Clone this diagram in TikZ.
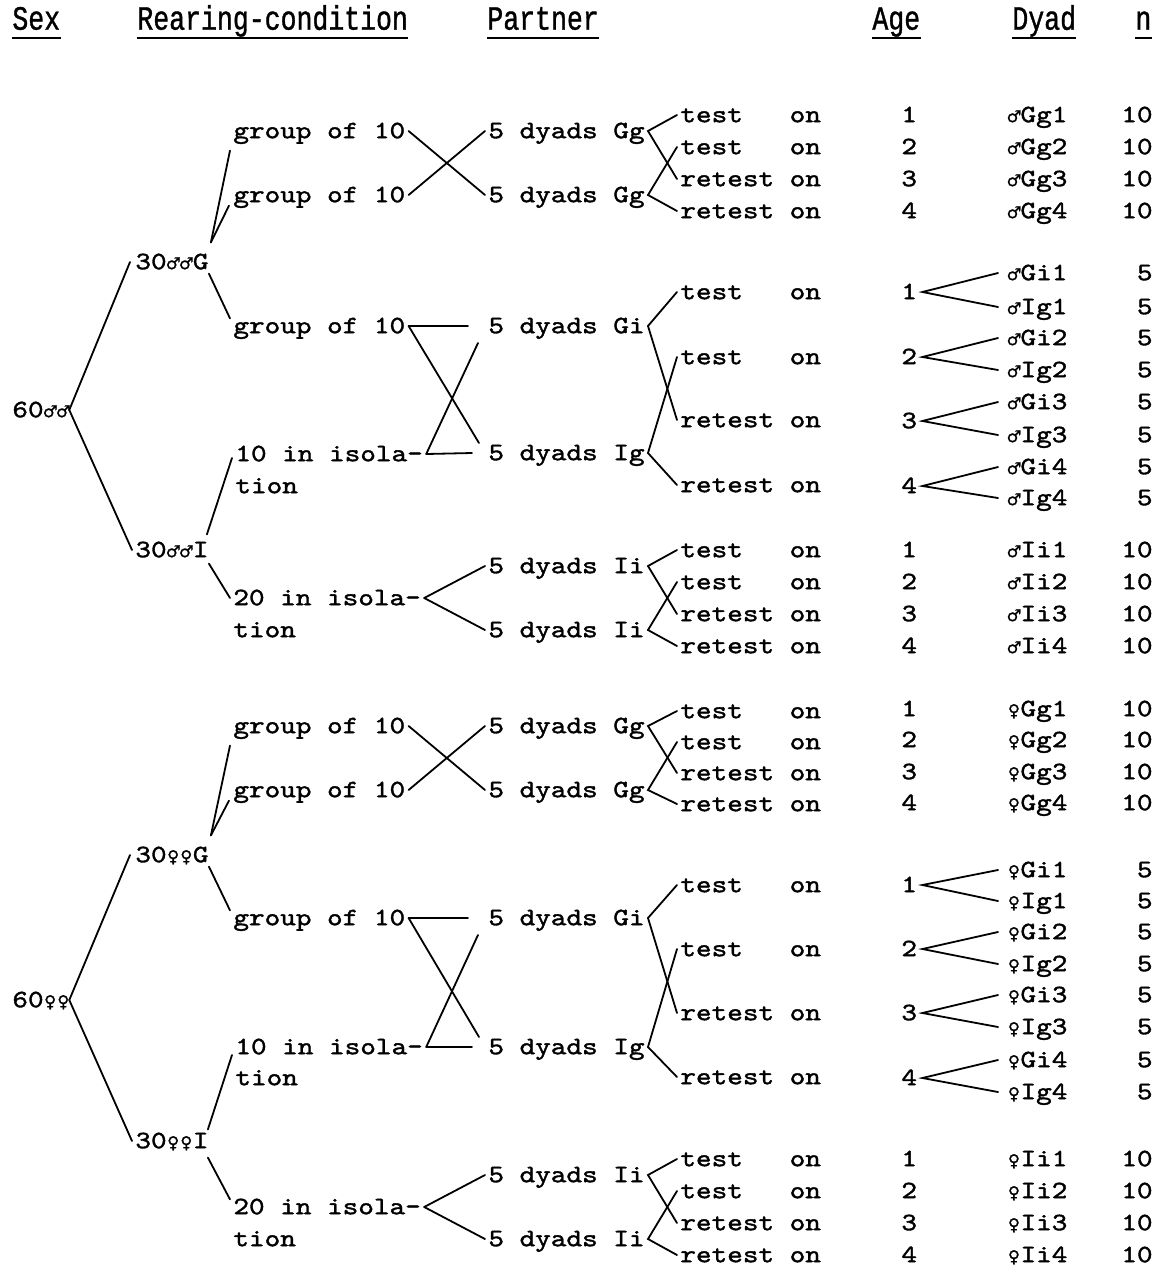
\documentclass[tikz,border=0pt]{standalone}
\usepackage{fontspec}
\newfontfamily\tw{lmmono10-regular.otf}[FakeStretch=1.19,FakeBold=1.5]
\newfontfamily\twc{Liberation Mono}[FakeStretch=0.78,FakeBold=1]
\newfontfamily\symf{DejaVu Sans}[Scale=0.66,FakeBold=1]
\newcommand\malesym{\makebox[0.525em]{\symf\char"2642}}
\newcommand\femsym{\makebox[0.525em]{\symf\char"2640}}
\newcommand\tst{test\ \ \ on}
\newcommand\rtst{retest on}
\tikzset{
  txt/.style={anchor=west, inner xsep=1.5pt, inner ysep=0pt, text height=7.2pt, text depth=0pt, font=\tw\fontsize{12.5}{15}\selectfont},
  nr/.style={txt, anchor=east},
  hdr/.style={txt, text height=9.7pt, font=\twc\fontsize{17}{19}\selectfont},
  ln/.style={line width=0.9pt, line cap=round},
}
\begin{document}
\begin{tikzpicture}[x=0.5pt,y=-0.5pt]
\useasboundingbox (0,0) rectangle (1162,1265);
% headers
\node[hdr] (hs) at (9,20) {Sex};
\node[hdr] (hr) at (134,20) {Rearing-condition};
\node[hdr] (hp) at (484,20) {Partner};
\node[hdr] (ha) at (869,20) {Age};
\node[hdr] (hd) at (1009,20) {Dyad};
\node[hdr] (hn) at (1132,20) {n};
\foreach \h in {hs,hr,hp,ha,hd,hn}
  \draw[line width=0.9pt] ([shift={(3,8)}]\h.south west) -- ([shift={(-3,8)}]\h.south east);

% ================= MALES =================
\node[txt] (sexM) at (9,410) {60\malesym\malesym};
\node[txt] (rgM) at (132,262) {30\malesym\malesym G};
\node[txt] (g1M) at (230,131) {group of 10};
\node[txt] (g2M) at (230,195) {group of 10};
\node[txt] (g3M) at (230,326) {group of 10};
\node[txt] (i1M) at (232,454) {10 in isola-};
\node[txt] (i1tM) at (232,486) {tion};
\node[txt] (riM) at (132,550) {30\malesym\malesym I};
\node[txt] (i2M) at (230,598) {20 in isola-};
\node[txt] (i2tM) at (230,630) {tion};
\node[txt] (d1M) at (485,131) {5 dyads Gg};
\node[txt] (d2M) at (485,195) {5 dyads Gg};
\node[txt] (d3M) at (485,326) {5 dyads Gi};
\node[txt] (d4M) at (485,453) {5 dyads Ig};
\node[txt] (d5M) at (485,566) {5 dyads Ii};
\node[txt] (d6M) at (485,630) {5 dyads Ii};
\foreach \n/\y/\t in {1/115/\tst,2/147/\tst,3/179/\rtst,4/211/\rtst,
                      5/292/\tst,6/357/\tst,7/420/\rtst,8/485/\rtst,
                      9/550/\tst,10/582/\tst,11/614/\rtst,12/646/\rtst}
  \node[txt] (tM\n) at (677,\y) {\t};
% ages, dyads, n
\foreach \n/\y in {1/115,2/147,3/179,4/211}{
  \node[txt] (agM\n) at (898,\y) {\n};
  \node[txt] (dgM\n) at (1004,\y) {\malesym Gg\n};
  \node[nr] (ngM\n) at (1156,\y) {10};
}
\foreach \n/\y in {1/292,2/357,3/421,4/486}
  \node[txt] (aiM\n) at (898,\y) {\n};
\foreach \n/\y/\l in {1/273/Gi1,2/307/Ig1,3/338/Gi2,4/370/Ig2,5/402/Gi3,6/435/Ig3,7/467/Gi4,8/498/Ig4}{
  \node[txt] (sM\n) at (1004,\y) {\malesym\l};
  \node[nr] (nsM\n) at (1156,\y) {5};
}
\foreach \n/\y in {1/550,2/582,3/614,4/646}{
  \node[txt] (aIM\n) at (898,\y) {\n};
  \node[txt] (dIM\n) at (1004,\y) {\malesym Ii\n};
  \node[nr] (nIM\n) at (1156,\y) {10};
}
% connectors
\draw[ln] ([shift={(-4,0)}]sexM.east) -- ([shift={(-2,0)}]rgM.west);
\draw[ln] ([shift={(-4,0)}]sexM.east) -- (riM.west);
\draw[ln] ([shift={(-1,-12)}]rgM.north east) -- ([shift={(0,12)}]g1M.south west);
\draw[ln] ([shift={(-1,-12)}]rgM.north east) -- ([shift={(-1,3)}]g2M.south west);
\draw[ln] ([shift={(-3,4)}]rgM.south east) -- (g3M.north west);
\draw[ln] ([shift={(-5,-8)}]riM.north east) -- ([shift={(0,4)}]i1M.west);
\draw[ln] ([shift={(-3,6)}]riM.south east) -- (i2M.west);
\draw[ln] (g1M.east) -- (d2M.west);
\draw[ln] (g2M.east) -- (d1M.west);
\draw[ln] (g3M.east) -- ([shift={(-17,0)}]d3M.west);
\draw[ln] (g3M.east) -- ([shift={(-6,-10)}]d4M.west);
\draw[ln] (i1M.east) -- ([shift={(-13,0)}]d4M.west);
\draw[ln] (i1M.east) -- ([shift={(-7,17)}]d3M.west);
\draw[ln] (i2M.east) -- (d5M.west);
\draw[ln] (i2M.east) -- (d6M.west);
\draw[ln] (tM1.west) -- (d1M.east) -- (tM3.west);
\draw[ln] (tM2.west) -- (d2M.east) -- (tM4.west);
\draw[ln] (tM5.west) -- (d3M.east) -- (tM7.west);
\draw[ln] (tM6.west) -- (d4M.east) -- (tM8.west);
\draw[ln] (tM9.west) -- (d5M.east) -- (tM11.west);
\draw[ln] (tM10.west) -- (d6M.east) -- (tM12.west);
\draw[ln] ([shift={(-6,0)}]sM1.west) -- ([shift={(2,0)}]aiM1.east) -- ([shift={(-6,0)}]sM2.west);
\draw[ln] ([shift={(-6,0)}]sM3.west) -- ([shift={(2,0)}]aiM2.east) -- ([shift={(-6,0)}]sM4.west);
\draw[ln] ([shift={(-6,0)}]sM5.west) -- ([shift={(2,0)}]aiM3.east) -- ([shift={(-6,0)}]sM6.west);
\draw[ln] ([shift={(-6,0)}]sM7.west) -- ([shift={(2,0)}]aiM4.east) -- ([shift={(-6,0)}]sM8.west);

% ================= FEMALES =================
\node[txt] (sexF) at (9,1000) {60\femsym\femsym};
\node[txt] (rgF) at (132,855) {30\femsym\femsym G};
\node[txt] (g1F) at (230,726) {group of 10};
\node[txt] (g2F) at (230,790) {group of 10};
\node[txt] (g3F) at (230,918) {group of 10};
\node[txt] (i1F) at (232,1047) {10 in isola-};
\node[txt] (i1tF) at (232,1078) {tion};
\node[txt] (riF) at (132,1141) {30\femsym\femsym I};
\node[txt] (i2F) at (230,1207) {20 in isola-};
\node[txt] (i2tF) at (230,1239) {tion};
\node[txt] (d1F) at (485,726) {5 dyads Gg};
\node[txt] (d2F) at (485,790) {5 dyads Gg};
\node[txt] (d3F) at (485,918) {5 dyads Gi};
\node[txt] (d4F) at (485,1047) {5 dyads Ig};
\node[txt] (d5F) at (485,1175) {5 dyads Ii};
\node[txt] (d6F) at (485,1239) {5 dyads Ii};
\foreach \n/\y/\t in {1/711/\tst,2/742/\tst,3/773/\rtst,4/804/\rtst,
                      5/885/\tst,6/949/\tst,7/1013/\rtst,8/1077/\rtst,
                      9/1159/\tst,10/1191/\tst,11/1223/\rtst,12/1255/\rtst}
  \node[txt] (tF\n) at (677,\y) {\t};
\foreach \n/\y in {1/709,2/740,3/772,4/803}{
  \node[txt] (agF\n) at (898,\y) {\n};
  \node[txt] (dgF\n) at (1004,\y) {\femsym Gg\n};
  \node[nr] (ngF\n) at (1156,\y) {10};
}
\foreach \n/\y in {1/885,2/949,3/1013,4/1078}
  \node[txt] (aiF\n) at (898,\y) {\n};
\foreach \n/\y/\l in {1/870/Gi1,2/901/Ig1,3/932/Gi2,4/964/Ig2,5/995/Gi3,6/1027/Ig3,7/1060/Gi4,8/1092/Ig4}{
  \node[txt] (sF\n) at (1004,\y) {\femsym\l};
  \node[nr] (nsF\n) at (1156,\y) {5};
}
\foreach \n/\y in {1/1159,2/1191,3/1223,4/1255}{
  \node[txt] (aIF\n) at (898,\y) {\n};
  \node[txt] (dIF\n) at (1004,\y) {\femsym Ii\n};
  \node[nr] (nIF\n) at (1156,\y) {10};
}
\draw[ln] ([shift={(-4,0)}]sexF.east) -- ([shift={(-2,0)}]rgF.west);
\draw[ln] ([shift={(-4,0)}]sexF.east) -- (riF.west);
\draw[ln] ([shift={(-1,-12)}]rgF.north east) -- ([shift={(0,12)}]g1F.south west);
\draw[ln] ([shift={(-1,-12)}]rgF.north east) -- ([shift={(-1,3)}]g2F.south west);
\draw[ln] ([shift={(-3,4)}]rgF.south east) -- (g3F.north west);
\draw[ln] ([shift={(-4,-4)}]riF.north east) -- ([shift={(0,8)}]i1F.west);
\draw[ln] ([shift={(-4,9)}]riF.south east) -- (i2F.north west);
\draw[ln] (g1F.east) -- (d2F.west);
\draw[ln] (g2F.east) -- (d1F.west);
\draw[ln] (g3F.east) -- ([shift={(-17,0)}]d3F.west);
\draw[ln] (g3F.east) -- ([shift={(-6,-10)}]d4F.west);
\draw[ln] (i1F.east) -- ([shift={(-13,0)}]d4F.west);
\draw[ln] (i1F.east) -- ([shift={(-7,17)}]d3F.west);
\draw[ln] (i2F.east) -- (d5F.west);
\draw[ln] (i2F.east) -- (d6F.west);
\draw[ln] (tF1.west) -- (d1F.east) -- (tF3.west);
\draw[ln] (tF2.west) -- (d2F.east) -- (tF4.west);
\draw[ln] (tF5.west) -- (d3F.east) -- (tF7.west);
\draw[ln] (tF6.west) -- (d4F.east) -- (tF8.west);
\draw[ln] (tF9.west) -- (d5F.east) -- (tF11.west);
\draw[ln] (tF10.west) -- (d6F.east) -- (tF12.west);
\draw[ln] ([shift={(-6,0)}]sF1.west) -- ([shift={(2,0)}]aiF1.east) -- ([shift={(-6,0)}]sF2.west);
\draw[ln] ([shift={(-6,0)}]sF3.west) -- ([shift={(2,0)}]aiF2.east) -- ([shift={(-6,0)}]sF4.west);
\draw[ln] ([shift={(-6,0)}]sF5.west) -- ([shift={(2,0)}]aiF3.east) -- ([shift={(-6,0)}]sF6.west);
\draw[ln] ([shift={(-6,0)}]sF7.west) -- ([shift={(2,0)}]aiF4.east) -- ([shift={(-6,0)}]sF8.west);
\end{tikzpicture}
\end{document}
